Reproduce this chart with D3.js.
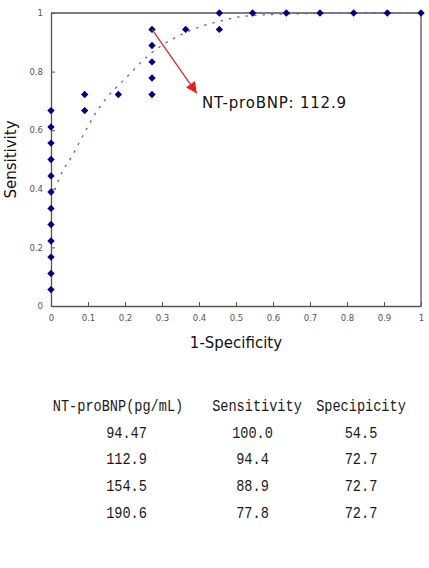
<!DOCTYPE html>
<meta charset="utf-8">
<style>body{margin:0;background:#fff;}</style>
<script src="https://d3js.org/d3.v7.min.js"></script>
<div id="chart"></div>
<script>
// ROC points (1-specificity, sensitivity)
const fpr  = [0,0,0,0,0,0,0,0,0,0,0,0, 0.091,0.091, 0.182, 0.273,0.273,0.273,0.273,0.273, 0.364, 0.455,0.455, 0.545,0.636,0.727,0.818,0.909,1];
const sens = [0.056,0.111,0.167,0.222,0.278,0.333,0.389,0.444,0.5,0.556,0.611,0.667, 0.667,0.722, 0.722, 0.722,0.778,0.833,0.889,0.944, 0.944, 0.944,1, 1,1,1,1,1,1];

// fitted dotted curve
const fitX = [0.01,0.024,0.056,0.09,0.124,0.15,0.2,0.25,0.3,0.35,0.4,0.45,0.5,0.6,0.7,0.8,0.95];
const fitY = [0.395,0.441,0.51,0.59,0.665,0.71,0.775,0.84,0.89,0.925,0.952,0.97,0.985,0.995,0.998,1,1];

const xTicks = [0,0.1,0.2,0.3,0.4,0.5,0.6,0.7,0.8,0.9,1];
const yTicks = [0,0.2,0.4,0.6,0.8,1];

// annotation arrow
const arrowFrom = [0.273, 0.944];
const arrowTo = [0.394, 0.726];
const annotation = "NT-proBNP: 112.9";

// table below the chart
const tableHead = ["NT-proBNP(pg/mL)", "Sensitivity", "Specipicity"];
const cutoffs = ["94.47", "112.9", "154.5", "190.6"];
const sensCol = ["100.0", "94.4", "88.9", "77.8"];
const specCol = ["54.5", "72.7", "72.7", "72.7"];

const W = 429, H = 568;
const plot = {left: 51, right: 421, top: 13, bottom: 306};

const svg = d3.select("#chart").append("svg")
    .attr("width", W).attr("height", H)
    .style("font-family", "DejaVu Sans");

const x = d3.scaleLinear().domain([0, 1]).range([plot.left, plot.right]);
const y = d3.scaleLinear().domain([0, 1]).range([plot.bottom, plot.top]);

// frame (top + right)
svg.append("path")
    .attr("d", `M${plot.left},${plot.top}H${plot.right}V${plot.bottom}`)
    .attr("fill", "none").attr("stroke", "#555").attr("stroke-width", 1.3);

const xAxis = svg.append("g")
    .attr("transform", `translate(0,${plot.bottom})`)
    .call(d3.axisBottom(x).tickValues(xTicks).tickSizeInner(-4).tickSizeOuter(0).tickPadding(9)
        .tickFormat(d => d3.format("")(d)));
const yAxis = svg.append("g")
    .attr("transform", `translate(${plot.left},0)`)
    .call(d3.axisLeft(y).tickValues(yTicks).tickSizeInner(-4).tickSizeOuter(0).tickPadding(8)
        .tickFormat(d => d3.format("")(d)));

[xAxis, yAxis].forEach(g => {
    g.select(".domain").attr("stroke", "#555").attr("stroke-width", 1.3);
    g.selectAll(".tick line").attr("stroke", "#555");
    g.selectAll(".tick text").attr("fill", "#555").attr("font-size", 8.5).attr("font-family", "DejaVu Sans");
});

// dotted fit curve
const fitLine = d3.line().x(d => x(d[0])).y(d => y(d[1])).curve(d3.curveMonotoneX);
svg.append("path")
    .datum(d3.zip(fitX, fitY))
    .attr("d", fitLine)
    .attr("fill", "none")
    .attr("stroke", "#5c5ce6")
    .attr("stroke-width", 1.3)
    .attr("stroke-dasharray", "2.5,6");

// diamonds
svg.selectAll("path.pt")
    .data(d3.zip(fpr, sens))
    .enter().append("path")
    .attr("class", "pt")
    .attr("d", d3.symbol().type(d3.symbolSquare).size(27))
    .attr("transform", d => `translate(${x(d[0])},${y(d[1])}) rotate(45)`)
    .attr("fill", "#000080");

// arrow
svg.append("defs").append("marker")
    .attr("id", "head").attr("viewBox", "0 0 10 10")
    .attr("refX", 10).attr("refY", 5)
    .attr("markerWidth", 13).attr("markerHeight", 11)
    .attr("markerUnits", "userSpaceOnUse")
    .attr("orient", "auto")
    .append("path").attr("d", "M0,0L10,5L0,10Z").attr("fill", "#ee1c1c");

svg.append("line")
    .attr("x1", x(arrowFrom[0])).attr("y1", y(arrowFrom[1]))
    .attr("x2", x(arrowTo[0])).attr("y2", y(arrowTo[1]))
    .attr("stroke", "#ee1c1c").attr("stroke-width", 1.2)
    .attr("marker-end", "url(#head)");

svg.append("text")
    .attr("x", 202).attr("y", 108)
    .attr("font-size", 15).attr("fill", "#111")
    .attr("textLength", 144).attr("lengthAdjust", "spacing")
    .text(annotation);

// axis titles
svg.append("text")
    .attr("x", (plot.left + plot.right) / 2).attr("y", 348)
    .attr("text-anchor", "middle").attr("font-size", 15).attr("fill", "#111")
    .text("1-Specificity");
svg.append("text")
    .attr("transform", `translate(16,${(plot.top + plot.bottom) / 2}) rotate(-90)`)
    .attr("text-anchor", "middle").attr("font-size", 15).attr("fill", "#111")
    .text("Sensitivity");

// table (narrow monospace look)
const colX = [118, 257, 361];
const dataX = [126.5, 252.5, 361];
const rowY0 = 411, rowStep = 26.7;
const cell = (cx, cy, txt) => svg.append("text")
    .attr("transform", `translate(${cx},${cy}) scale(0.8,1)`)
    .attr("text-anchor", "middle")
    .attr("font-family", "Liberation Mono")
    .attr("font-size", 17).attr("fill", "#1a1a1a")
    .text(txt);

tableHead.forEach((t, i) => cell(colX[i], rowY0, t));
[cutoffs, sensCol, specCol].forEach((col, i) =>
    col.forEach((t, j) => cell(dataX[i], rowY0 + rowStep * (j + 1), t)));
</script>
